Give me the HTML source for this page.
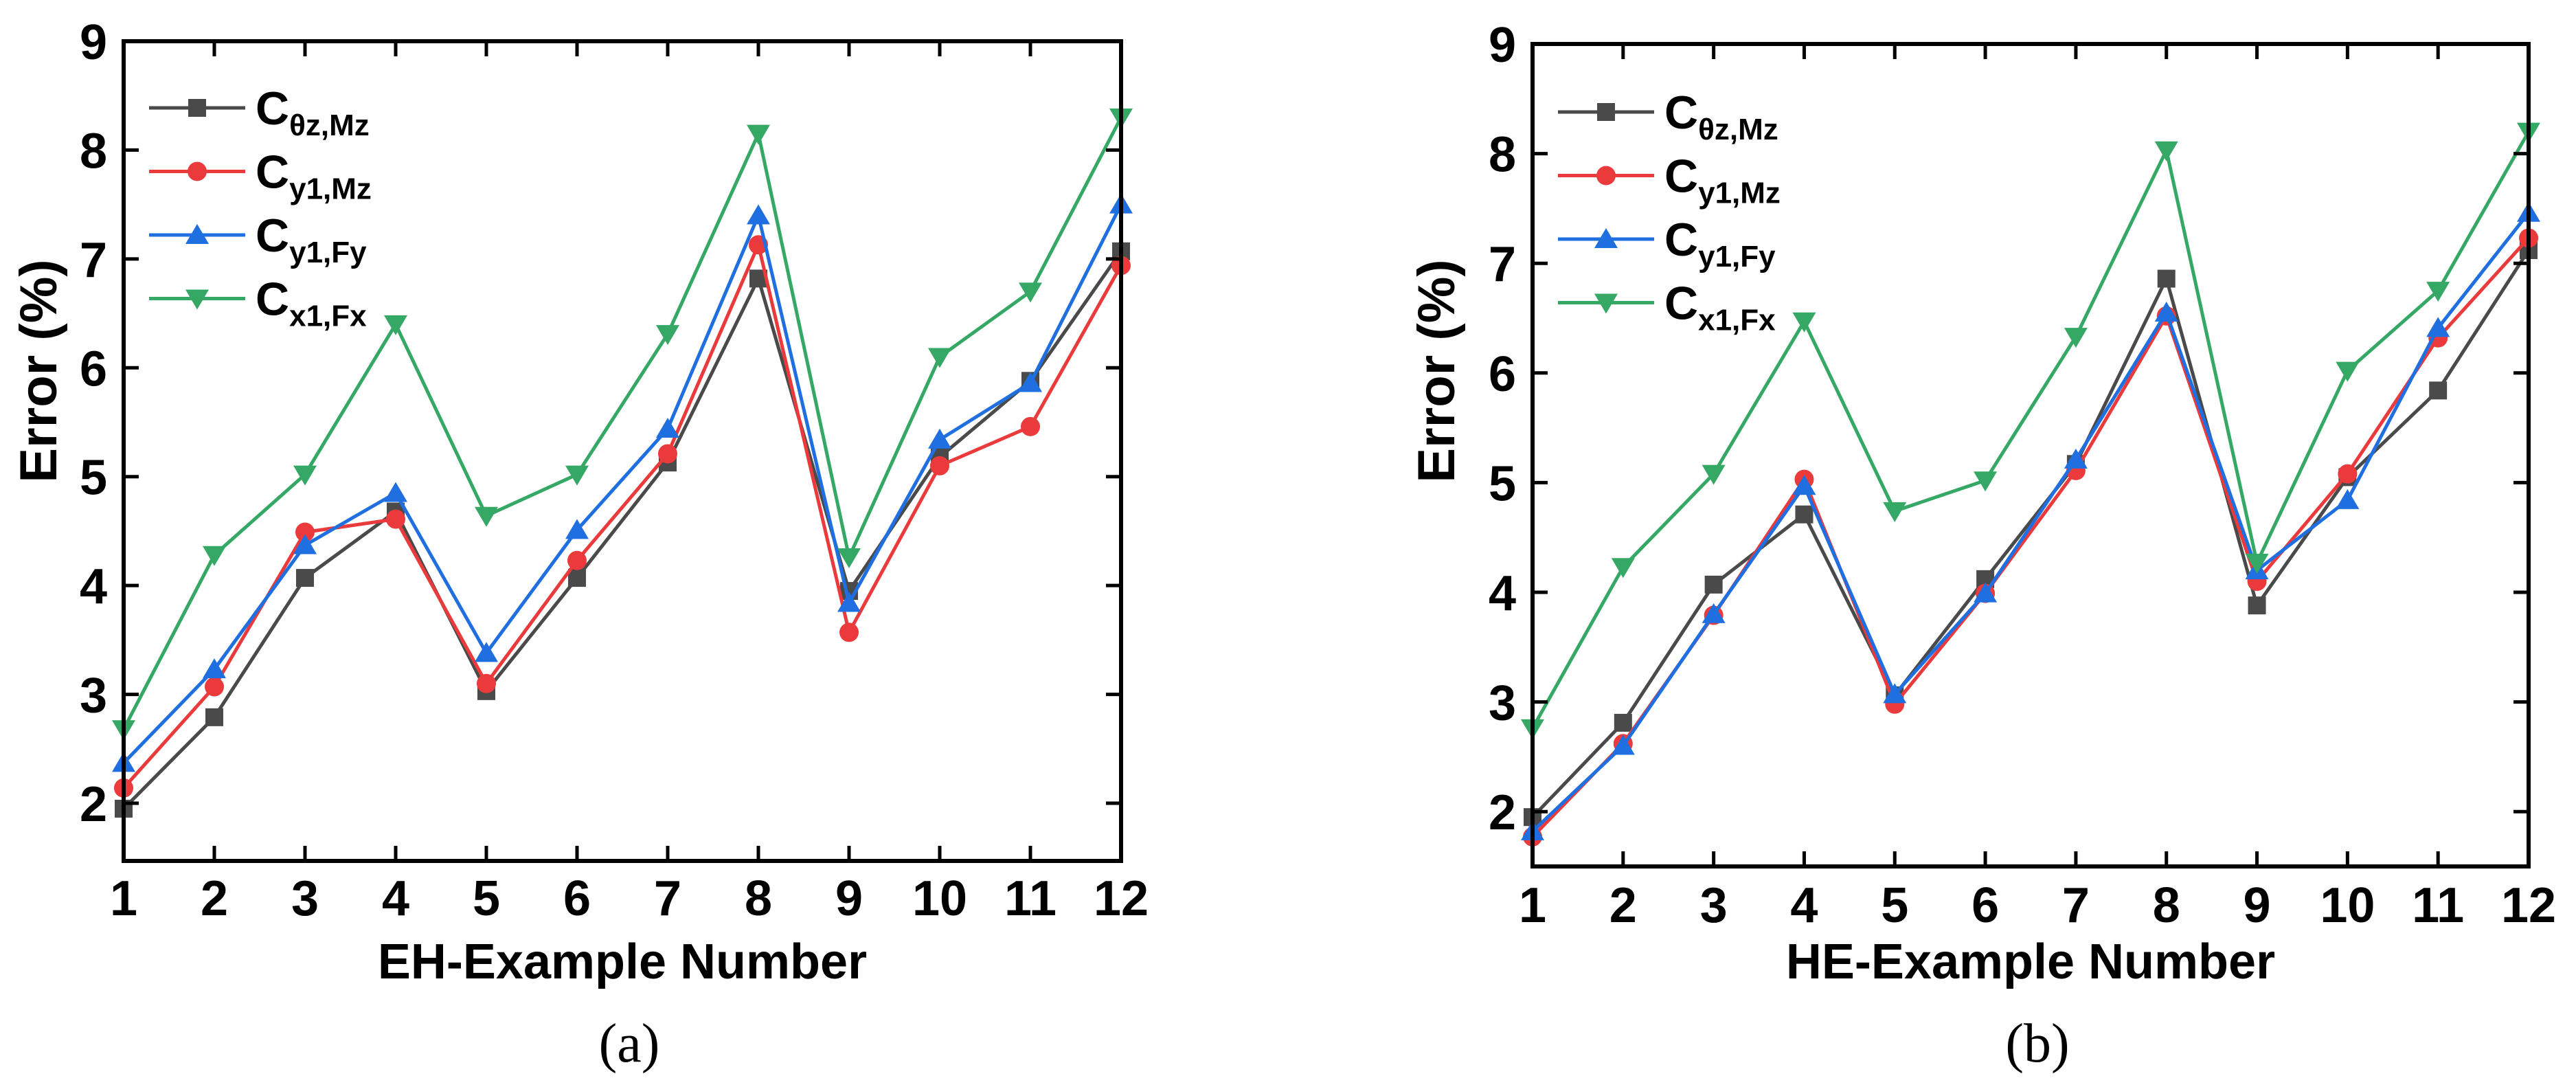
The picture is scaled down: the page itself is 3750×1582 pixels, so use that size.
<!DOCTYPE html>
<html><head><meta charset="utf-8">
<style>
html,body{margin:0;padding:0;background:#fff;}
svg{display:block;}
text{font-family:"Liberation Sans",Arial,sans-serif;font-weight:bold;fill:#000;}
</style></head>
<body>
<svg id="fig" width="3750" height="1582" viewBox="0 0 3750 1582" xmlns="http://www.w3.org/2000/svg"></svg>
<script>
const categories = [1,2,3,4,5,6,7,8,9,10,11,12];
const yTicks = [2,3,4,5,6,7,8,9];
const seriesNames = ["θz,Mz","y1,Mz","y1,Fy","x1,Fx"];
const ehTheta = [1.95,2.79,4.07,4.68,3.03,4.07,5.13,6.82,3.95,5.18,5.88,7.07];
const ehY1Mz  = [2.14,3.07,4.49,4.61,3.10,4.23,5.21,7.13,3.57,5.10,5.46,6.94];
const ehY1Fy  = [2.37,3.23,4.37,4.85,3.38,4.51,5.44,7.40,3.84,5.34,5.86,7.50];
const ehX1Fx  = [2.68,4.28,5.02,6.40,4.64,5.02,6.31,8.15,4.26,6.10,6.70,8.30];
const heTheta = [1.95,2.81,4.07,4.71,3.06,4.12,5.17,6.86,3.88,5.05,5.84,7.12];
const heY1Mz  = [1.77,2.62,3.79,5.03,2.98,3.99,5.11,6.52,4.10,5.08,6.32,7.23];
const heY1Fy  = [1.82,2.60,3.80,4.97,3.07,3.99,5.21,6.55,4.20,4.84,6.41,7.46];
const heX1Fx  = [2.76,4.23,5.08,6.47,4.74,5.02,6.33,8.03,4.27,6.02,6.75,8.20];

const NS="http://www.w3.org/2000/svg";
const svg=document.getElementById('fig');
function el(tag,attrs,parent){const e=document.createElementNS(NS,tag);for(const k in attrs)e.setAttribute(k,attrs[k]);(parent||svg).appendChild(e);return e;}
const colors=["#4a4a4a","#ea3a3c","#1f6fe0","#36a865"];
const mtypes=["square","circle","up","down"];

function marker(g,type,x,y,c){
  let m;
  if(type==="square") m=el('rect',{x:x-13,y:y-13,width:26,height:26,fill:c},g);
  else if(type==="circle") m=el('circle',{cx:x,cy:y,r:14,fill:c},g);
  else if(type==="up") m=el('polygon',{points:`${x},${y-16} ${x+17},${y+13} ${x-17},${y+13}`,fill:c},g);
  else m=el('polygon',{points:`${x},${y+16} ${x+17},${y-13} ${x-17},${y-13}`,fill:c},g);
  return m;
}

function chart(cfg){
  const {L,R,T,B,ymin,ymax,data,xtitle,ytitleX,panel,legX,legY,tickLabelBase,id}=cfg;
  const xs=v=>L+(v-1)*(R-L)/11;
  const ys=v=>B-(v-ymin)*(B-T)/(ymax-ymin);
  const g=el('g',{});
  
  
  data.forEach((arr,si)=>{
    const sg=el('g',{},g);
    
    
    const pts=arr.map((v,i)=>xs(categories[i])+','+ys(v)).join(' ');
    el('polyline',{points:pts,fill:'none',stroke:colors[si],'stroke-width':5,'stroke-linejoin':'round'},sg);
    arr.forEach((v,i)=>{
      const m=marker(sg,mtypes[si],xs(categories[i]),ys(v),colors[si]);
      
      
    });
  });
  const fr=el('rect',{x:L,y:T,width:R-L,height:B-T,fill:'none',stroke:'#000','stroke-width':6},g);
  
  
  categories.forEach(c=>{
    const x=xs(c);
    el('line',{x1:x,y1:B,x2:x,y2:B-22,stroke:'#000','stroke-width':5},g);
    el('line',{x1:x,y1:T,x2:x,y2:T+22,stroke:'#000','stroke-width':5},g);
    const t=el('text',{x:x,y:tickLabelBase,'font-size':72,'text-anchor':'middle'},g);
    t.textContent=c;
    
    
  });
  yTicks.forEach(v=>{
    const y=ys(v);
    el('line',{x1:L,y1:y,x2:L+22,y2:y,stroke:'#000','stroke-width':5},g);
    el('line',{x1:R,y1:y,x2:R-22,y2:y,stroke:'#000','stroke-width':5},g);
    const t=el('text',{x:L-24,y:y+26,'font-size':72,'text-anchor':'end'},g);
    t.textContent=v;
    
    
  });
  const xt=el('text',{x:(L+R)/2,y:1424,'font-size':72,'text-anchor':'middle'},g);
  xt.textContent=xtitle;
  
  
  const yt=el('text',{x:0,y:0,'font-size':76,'text-anchor':'middle',transform:`translate(${ytitleX+26},540) rotate(-90)`},g);
  yt.textContent='Error (%)';
  
  
  const pl=el('text',{x:(L+R)/2+10,y:1545,'font-size':80,'text-anchor':'middle',style:'font-family:"Liberation Serif",serif;font-weight:normal'},g);
  pl.textContent=panel;
  
  
  const lg=el('g',{},g);
  
  
  seriesNames.forEach((n,i)=>{
    const y=legY+i*92.5;
    const e=el('g',{},lg);
    
    
    el('line',{x1:legX,y1:y,x2:legX+140,y2:y,stroke:colors[i],'stroke-width':5},e);
    marker(e,mtypes[i],legX+70,y,colors[i]);
    const t=el('text',{x:legX+155,y:y+24,'font-size':68},e);
    t.textContent='C';
    const s=el('tspan',{'font-size':44,dy:16},t);
    s.textContent=n;
  });
}

chart({id:'eh',L:180,R:1632,T:60,B:1253,ymin:1.47,ymax:9,data:[ehTheta,ehY1Mz,ehY1Fy,ehX1Fx],
  xtitle:'EH-Example Number',ytitleX:56,panel:'(a)',legX:217,legY:157,tickLabelBase:1332});
chart({id:'he',L:2231,R:3681,T:64,B:1261,ymin:1.5,ymax:9,data:[heTheta,heY1Mz,heY1Fy,heX1Fx],
  xtitle:'HE-Example Number',ytitleX:2091,panel:'(b)',legX:2268,legY:163,tickLabelBase:1342});
</script>
</body></html>
